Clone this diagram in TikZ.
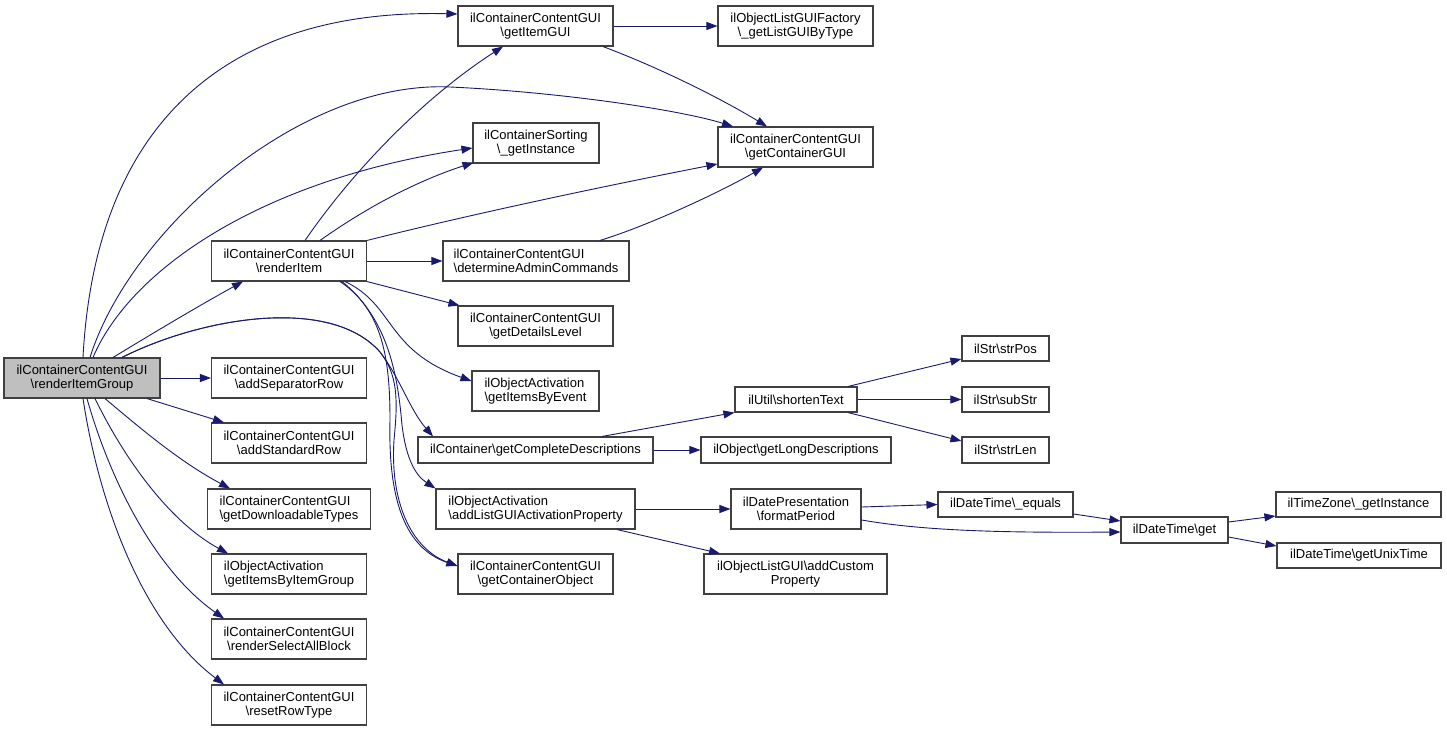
\documentclass[tikz,border=0pt]{standalone}
\usepackage{fontspec}
\setmainfont{Liberation Sans}
\usetikzlibrary{arrows.meta,calc}
\definecolor{edgecol}{HTML}{191970}
\definecolor{boxline}{HTML}{404040}
\definecolor{graybox}{HTML}{BFBFBF}
\tikzset{
  box/.style={draw=boxline,line width=1.1pt,fill=white,inner sep=0pt,align=center,
    font=\fontsize{13}{14}\selectfont,minimum height=40pt},
  lbox/.style={box,align=left},
  sbox/.style={box,minimum height=25pt},
  edge/.style={draw=edgecol,line width=0.9pt,-{Triangle[length=11pt,width=8pt]}}
}
\begin{document}
\begin{tikzpicture}[x=1pt,y=-1pt]
\useasboundingbox (0,0) rectangle (1447,731);
% nodes
\node[box,fill=graybox,minimum width=156pt] (rig) at (82,378) {ilContainerContentGUI\\\textbackslash renderItemGroup};
\node[box,minimum width=155pt] (gig) at (535.5,26) {ilContainerContentGUI\\\textbackslash getItemGUI};
\node[box,minimum width=155pt] (lgt) at (795.5,26) {ilObjectListGUIFactory\\\textbackslash\_getListGUIByType};
\node[box,minimum width=155pt] (gcg) at (795.5,147) {ilContainerContentGUI\\\textbackslash getContainerGUI};
\node[box,minimum width=126pt] (srt) at (536,143) {ilContainerSorting\\\textbackslash\_getInstance};
\node[box,minimum width=155pt] (ri) at (289,261) {ilContainerContentGUI\\\textbackslash renderItem};
\node[lbox,minimum width=186pt] (dac) at (536,261) {ilContainerContentGUI\\\textbackslash determineAdminCommands};
\node[box,minimum width=155pt] (gdl) at (535.5,326) {ilContainerContentGUI\\\textbackslash getDetailsLevel};
\node[lbox,minimum width=127pt] (gie) at (535.5,391) {ilObjectActivation\\\textbackslash getItemsByEvent};
\node[box,minimum width=155pt] (asr) at (289,378) {ilContainerContentGUI\\\textbackslash addSeparatorRow};
\node[box,minimum width=155pt] (ast) at (289,443) {ilContainerContentGUI\\\textbackslash addStandardRow};
\node[lbox,minimum width=163pt] (gdt) at (289,509) {ilContainerContentGUI\\\textbackslash getDownloadableTypes};
\node[lbox,minimum width=155pt] (gib) at (289,574) {ilObjectActivation\\\textbackslash getItemsByItemGroup};
\node[box,minimum width=155pt] (rsa) at (289,639) {ilContainerContentGUI\\\textbackslash renderSelectAllBlock};
\node[box,minimum width=155pt] (rrt) at (289,705) {ilContainerContentGUI\\\textbackslash resetRowType};
\node[box,minimum width=235pt,minimum height=26pt] (gcd) at (535.5,450) {ilContainer\textbackslash getCompleteDescriptions};
\node[lbox,minimum width=199pt] (alp) at (535.5,509) {ilObjectActivation\\\textbackslash addListGUIActivationProperty};
\node[box,minimum width=155pt] (gco) at (535.5,574) {ilContainerContentGUI\\\textbackslash getContainerObject};
\node[sbox,minimum width=122pt] (st) at (796,399.5) {ilUtil\textbackslash shortenText};
\node[box,minimum width=190pt,minimum height=26pt] (gld) at (796,450) {ilObject\textbackslash getLongDescriptions};
\node[box,minimum width=130pt] (fp) at (796,509) {ilDatePresentation\\\textbackslash formatPeriod};
\node[box,minimum width=183pt] (acp) at (795.5,574) {ilObjectListGUI\textbackslash addCustom\\Property};
\node[sbox,minimum width=87pt] (sp) at (1005.5,348.5) {ilStr\textbackslash strPos};
\node[sbox,minimum width=87pt] (ss) at (1005.5,399.5) {ilStr\textbackslash subStr};
\node[sbox,minimum width=87pt,minimum height=26pt] (sl) at (1005.5,450) {ilStr\textbackslash strLen};
\node[sbox,minimum width=135pt] (eq) at (1005.5,504.5) {ilDateTime\textbackslash\_equals};
\node[sbox,minimum width=107pt,minimum height=26pt] (get) at (1174.5,530) {ilDateTime\textbackslash get};
\node[sbox,minimum width=165pt] (tz) at (1358.5,504.5) {ilTimeZone\textbackslash\_getInstance};
\node[sbox,minimum width=164pt] (ut) at (1359,555.5) {ilDateTime\textbackslash getUnixTime};
% edges from renderItemGroup
\draw[edge] ($(rig.north)+(1,0)$) .. controls (95,130) and (220,8) .. ($(gig.west)+(0,-12)$);
\draw[edge] ($(rig.north)+(8,0)$) .. controls (130,230) and (300,80) .. (450,87) .. controls (560,92) and (680,110) .. ($(gcg.north)+(-62.5,0)$);
\draw[edge] ($(rig.north)+(11,0)$) .. controls (130,270) and (260,180) .. ($(srt.west)+(0,5)$);
\draw[edge] ($(rig.north)+(31,0)$) .. controls (150,335) and (200,305) .. ($(ri.south)+(-46,0)$);
\draw[edge] ($(rig.north)+(40,0)$) .. controls (200,318) and (330,295) .. (380,352) .. controls (400,378) and (410,410) .. ($(gcd.north)+(-102.5,0)$);
\draw[edge] ($(rig.north)+(40,0)$) .. controls (200,318) and (330,295) .. (380,352) .. controls (398,375) and (398,400) .. (394,440) .. controls (390,500) and (410,548) .. ($(gco.west)+(0,-8)$);
\draw[edge] (rig.east) -- (asr.west);
\draw[edge] ($(rig.south)+(65,0)$) -- ($(ast.north)+(-65,0)$);
\draw[edge] ($(rig.south)+(23,0)$) .. controls (140,428) and (180,462) .. ($(gdt.north)+(-59,0)$);
\draw[edge] ($(rig.south)+(13,0)$) .. controls (125,460) and (170,522) .. ($(gib.north)+(-61,0)$);
\draw[edge] ($(rig.south)+(5,0)$) .. controls (110,480) and (155,570) .. ($(rsa.north)+(-65,0)$);
\draw[edge] ($(rig.south)+(1,0)$) .. controls (100,510) and (145,625) .. ($(rrt.north)+(-65,0)$);
% edges from renderItem
\draw[edge] ($(ri.north)+(16,0)$) .. controls (350,175) and (420,100) .. ($(gig.south)+(-32.5,0)$);
\draw[edge] ($(ri.north)+(31,0)$) .. controls (370,205) and (420,180) .. ($(srt.south west)+(1,-1)$);
\draw[edge] (ri.north east) .. controls (480,212) and (620,183) .. ($(gcg.west)+(0,17)$);
\draw[edge] (ri.east) -- (dac.west);
\draw[edge] (ri.south east) -- ($(gdl.north west)+(2,0)$);
\draw[edge] ($(ri.south)+(56,0)$) .. controls (395,305) and (385,350) .. ($(gie.west)+(0,-10)$);
\draw[edge] ($(ri.south)+(53,0)$) .. controls (390,320) and (398,380) .. (402,425) .. controls (406,458) and (415,475) .. (alp.north west);
\draw[edge] ($(ri.south)+(51,0)$) .. controls (383,310) and (390,360) .. (390,420) .. controls (388,500) and (405,548) .. ($(gco.west)+(0,-8)$);
% other edges
\draw[edge] (gig.east) -- (lgt.west);
\draw[edge] ($(gig.south)+(67.5,0)$) .. controls (660,68) and (720,98) .. ($(gcg.north)+(-28.5,0)$);
\draw[edge] ($(dac.north)+(64,0)$) .. controls (650,225) and (720,192) .. ($(gcg.south)+(-32.5,0)$);
\draw[edge] ($(gcd.north)+(66.5,0)$) -- (st.south west);
\draw[edge] (gcd.east) -- (gld.west);
\draw[edge] ($(st.north)+(52,0)$) -- ($(sp.west)+(0,10.5)$);
\draw[edge] (st.east) -- (ss.west);
\draw[edge] ($(st.south)+(52,0)$) -- ($(sl.west)+(0,-9)$);
\draw[edge] (alp.east) -- (fp.west);
\draw[edge] ($(alp.south)+(81.5,0)$) -- ($(acp.north)+(-75.5,0)$);
\draw[edge] ($(fp.east)+(0,-2)$) -- (eq.west);
\draw[edge] ($(fp.east)+(0,11)$) .. controls (920,530) and (990,533) .. ($(get.west)+(0,2)$);
\draw[edge] ($(eq.east)+(0,9.5)$) -- ($(get.west)+(0,-9)$);
\draw[edge] ($(get.east)+(0,-8)$) -- ($(tz.west)+(0,11.5)$);
\draw[edge] ($(get.east)+(0,7)$) -- ($(ut.west)+(0,-9.5)$);
\end{tikzpicture}
\end{document}
